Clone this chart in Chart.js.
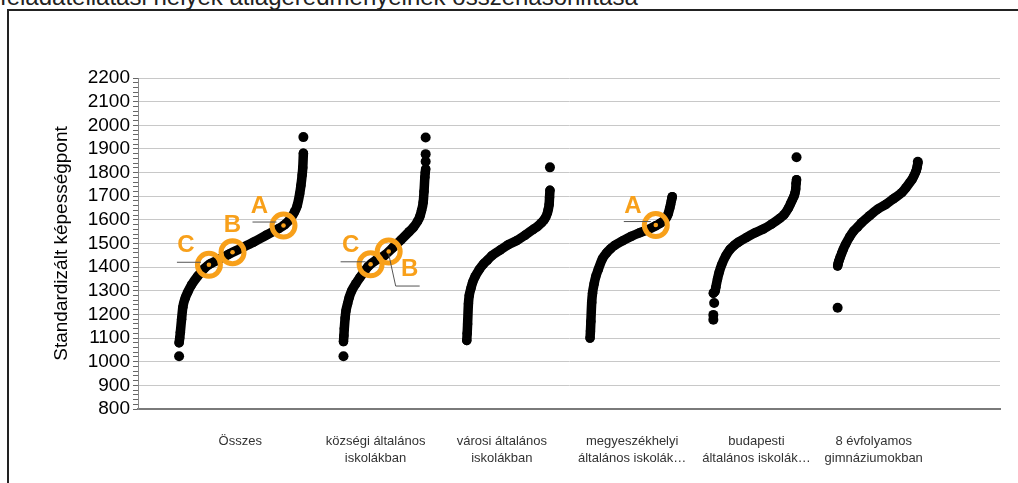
<!DOCTYPE html>
<html>
<head>
<meta charset="utf-8">
<script src="https://cdn.jsdelivr.net/npm/chart.js@4.4.1/dist/chart.umd.min.js"></script>
<style>
  html, body { margin: 0; padding: 0; background: #fff; }
  #wrap { position: relative; width: 1018px; height: 483px; overflow: hidden; }
  #caption { position: absolute; left: 0; top: -15px; font: 24px "Liberation Sans", Arial, sans-serif; line-height: 24px; color: #222; white-space: nowrap; }
  #frame { position: absolute; left: 7px; top: 9px; width: 1040px; height: 500px; border-top: 2px solid #222; border-left: 2px solid #222; }
  canvas { position: absolute; left: 0; top: 0; }
</style>
</head>
<body>
<div id="wrap">
  <div id="caption">feladatellátási helyek átlageredményeinek összehasonlítása</div>
  <div id="frame"></div>
  <canvas id="scoreChart" width="1018" height="483"></canvas>
</div>
<script>
const categories = [
  'Összes',
  ['községi általános', 'iskolákban'],
  ['városi általános', 'iskolákban'],
  ['megyeszékhelyi', 'általános iskolák…'],
  ['budapesti', 'általános iskolák…'],
  ['8 évfolyamos', 'gimnáziumokban']
];

const rankPct = [0, 0.5, 1, 2, 3, 5, 7, 10, 15, 20, 25, 30, 40, 50, 60, 70, 80, 85, 90, 93, 95, 97, 98, 99, 99.5, 100];

const osszes         = [1080, 1100, 1125, 1180, 1230, 1270, 1295, 1325, 1362, 1393, 1414, 1427, 1455, 1480, 1506, 1535, 1563, 1580, 1608, 1635, 1660, 1710, 1745, 1790, 1820, 1882];
const kozsegi        = [1085, 1110, 1140, 1185, 1215, 1245, 1272, 1300, 1330, 1356, 1380, 1403, 1430, 1450, 1482, 1515, 1550, 1568, 1593, 1615, 1640, 1675, 1720, 1780, 1800, 1815];
const varosi         = [1090, 1120, 1160, 1245, 1280, 1310, 1335, 1360, 1390, 1413, 1430, 1448, 1472, 1495, 1512, 1535, 1560, 1572, 1588, 1600, 1612, 1630, 1645, 1665, 1695, 1725];
const megyeszekhelyi = [1100, 1130, 1170, 1250, 1290, 1330, 1360, 1390, 1435, 1460, 1478, 1492, 1512, 1530, 1545, 1558, 1575, 1585, 1598, 1610, 1625, 1650, 1665, 1682, 1690, 1698];
const budapesti      = [1290, 1292, 1294, 1297, 1315, 1350, 1378, 1410, 1448, 1475, 1492, 1505, 1526, 1545, 1561, 1582, 1607, 1622, 1648, 1670, 1685, 1700, 1712, 1730, 1755, 1770];
const gimnazium      = [1405, 1412, 1420, 1430, 1440, 1458, 1475, 1497, 1528, 1553, 1570, 1588, 1618, 1645, 1665, 1690, 1715, 1735, 1758, 1772, 1785, 1800, 1808, 1820, 1830, 1840];

// isolated schools: [rank percentile, score]
const osszesOut   = [[0, 1023], [100, 1950]];
const kozsegiOut  = [[0, 1023], [100, 1847], [100, 1878], [100, 1948]];
const varosiOut   = [[100, 1822]];
const megyeOut    = [];
const budapestOut = [[0, 1178], [0, 1198], [1, 1248], [100, 1865]];
const gimnOut     = [[0, 1228], [100, 1846]];

// highlighted schools A, B, C
const markerGroup = [0, 0, 0, 1, 1, 3];
const markerLabel = ['C', 'B', 'A', 'C', 'B', 'A'];
const markerPct   = [24, 43, 84, 33, 55, 80];
const markerScore = [1410, 1463, 1576, 1412, 1466, 1578];

// ---- layout / drawing ----
const ORANGE = '#f8a01a';

// where each group sits on the (hidden) x axis
const slots = [
  { from: 4.1,  to: 16.5, label: 10.2 },
  { from: 20.5, to: 28.7, label: 23.7 },
  { from: 32.8, to: 41.1, label: 36.3 },
  { from: 45.1, to: 53.3, label: 49.3 },
  { from: 57.4, to: 65.7, label: 61.7 },
  { from: 69.8, to: 77.8, label: 73.4 }
];

const toX = (g, pct) => slots[g].from + (slots[g].to - slots[g].from) * pct / 100;

const curves = [osszes, kozsegi, varosi, megyeszekhelyi, budapesti, gimnazium];
const outliers = [osszesOut, kozsegiOut, varosiOut, megyeOut, budapestOut, gimnOut];

const datasets = [];
curves.forEach((scores, g) => {
  datasets.push({
    showLine: true,
    order: 2,
    data: scores.map((y, i) => ({ x: toX(g, rankPct[i]), y })),
    borderColor: '#000',
    borderWidth: 9.5,
    borderCapStyle: 'round',
    borderJoinStyle: 'round',
    cubicInterpolationMode: 'monotone',
    pointRadius: 4.7,
    pointBorderWidth: 0,
    pointBackgroundColor: '#000'
  });
  datasets.push({
    order: 2,
    data: outliers[g].map(([p, y]) => ({ x: toX(g, p), y })),
    pointRadius: 5,
    pointBorderWidth: 0,
    pointBackgroundColor: '#000'
  });
});

const markerPoints = markerScore.map((y, i) => ({ x: toX(markerGroup[i], markerPct[i]), y }));
datasets.push({
  order: 0,
  data: markerPoints,
  pointRadius: 11.5,
  pointBorderWidth: 5,
  pointBorderColor: ORANGE,
  pointBackgroundColor: 'rgba(0,0,0,0)'
});
datasets.push({
  order: 0,
  data: markerPoints,
  pointRadius: 2.3,
  pointBorderWidth: 0,
  pointBackgroundColor: ORANGE
});

// label + leader line offsets around each marker (px)
const callouts = [
  { text: [-23, -19], line: [[-32, -3], [-8, -3]] },
  { text: [0, -27],   line: null },
  { text: [-24, -19], line: [[-31, -4], [-7, -4]] },
  { text: [-20, -19], line: [[-30, -3], [-5, -3]] },
  { text: [21, 18],   line: [[0, 2], [7, 34], [31, 34]] },
  { text: [-23, -19], line: [[-32, -4], [-5, -4]] }
];

const calloutPlugin = {
  id: 'callouts',
  afterDatasetsDraw(chart) {
    const { ctx, scales: { x, y } } = chart;
    ctx.save();
    markerPoints.forEach((p, i) => {
      const px = x.getPixelForValue(p.x);
      const py = y.getPixelForValue(p.y);
      const c = callouts[i];
      if (c.line) {
        ctx.beginPath();
        ctx.strokeStyle = '#555';
        ctx.lineWidth = 1;
        c.line.forEach(([dx, dy], k) => {
          if (k === 0) ctx.moveTo(px + dx, py + dy + 0.5);
          else ctx.lineTo(px + dx, py + dy + 0.5);
        });
        ctx.stroke();
      }
      ctx.fillStyle = ORANGE;
      ctx.font = 'bold 24px "Liberation Sans", Arial, sans-serif';
      ctx.textAlign = 'center';
      ctx.textBaseline = 'middle';
      ctx.fillText(markerLabel[i], px + c.text[0], py + c.text[1]);
    });
    ctx.restore();
  }
};

Chart.defaults.font.family = '"Liberation Sans", Arial, sans-serif';

const ctx = document.getElementById('scoreChart').getContext('2d');

new Chart(ctx, {
  type: 'scatter',
  data: { datasets },
  options: {
    responsive: false,
    animation: false,
    layout: { padding: { left: 46, right: 18, top: 78, bottom: 0 } },
    plugins: {
      legend: { display: false },
      tooltip: { enabled: false }
    },
    scales: {
      x: {
        type: 'linear',
        min: 0,
        max: 86,
        afterBuildTicks(scale) { scale.ticks = slots.map(s => ({ value: s.label })); },
        afterFit(scale) { scale.height = 74; },
        ticks: {
          autoSkip: false,
          maxRotation: 0,
          color: '#333',
          font: { size: 13, lineHeight: 1.3 },
          padding: 24,
          callback: (v, i) => categories[i]
        },
        grid: { display: false, drawTicks: false },
        border: { display: true, color: '#7a7a7a', width: 2 }
      },
      y: {
        min: 800,
        max: 2200,
        afterFit(scale) { scale.width = 92; },
        ticks: {
          stepSize: 20,
          autoSkip: false,
          color: '#000',
          font: { size: 19 },
          padding: 3,
          callback: v => Math.round(v) % 100 === 0 ? Math.round(v) : ''
        },
        grid: {
          color: c => (c.tick && Math.round(c.tick.value) % 100 === 0) ? '#c8c8c8' : 'rgba(0,0,0,0)',
          tickColor: '#666',
          tickLength: 5
        },
        border: { color: '#888', width: 1 },
        title: {
          display: true,
          text: 'Standardizált képességpont',
          color: '#000',
          font: { size: 19 }
        }
      }
    }
  },
  plugins: [calloutPlugin]
});
</script>
</body>
</html>
